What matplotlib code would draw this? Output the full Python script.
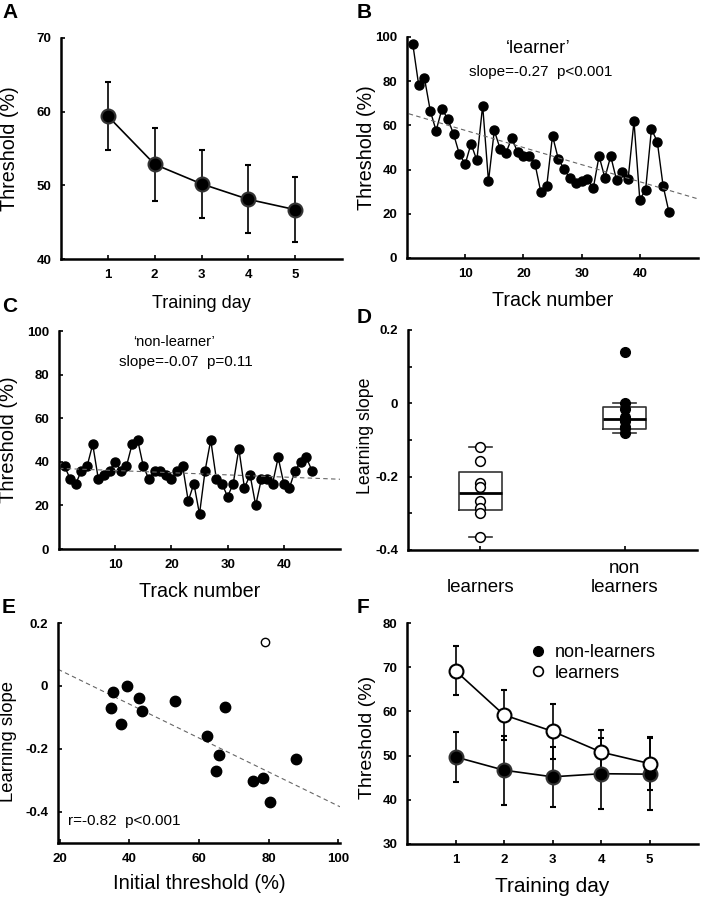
import numpy as np
import matplotlib
matplotlib.use('Agg')
import matplotlib.pyplot as plt
from matplotlib.lines import Line2D

plt.rcParams['font.family'] = ['Liberation Sans', 'DejaVu Sans']
plt.rcParams['axes.unicode_minus'] = False

# ---- data ----
# A: all subjects, threshold per training day
days = [1, 2, 3, 4, 5]
thr_all = [59.4, 52.85, 50.2, 48.1, 46.7]
thr_all_err = [4.6, 5.0, 4.65, 4.6, 4.4]

# B: example learner, threshold per track
track_learner = [96.7, 78.4, 81.4, 66.6, 57.6, 67.4, 63.0, 56.1, 47.0, 42.5,
                 51.7, 44.2, 69.0, 34.7, 57.7, 49.4, 47.5, 54.3, 47.9, 46.0,
                 46.0, 42.5, 29.7, 32.4, 55.3, 44.8, 40.2, 36.0, 34.1, 35.0,
                 35.9, 31.5, 46.1, 36.3, 46.1, 35.3, 38.9, 35.9, 61.8, 26.4,
                 30.9, 58.3, 52.7, 32.7, 20.9]
fit_learner = [65.5, -0.775]     # intercept, slope (per track)

# C: example non-learner
track_nonlearner = [38, 32, 30, 36, 38, 48, 32, 34, 36, 40,
                    36, 38, 48, 50, 38, 32, 36, 36, 34, 32,
                    36, 38, 22, 30, 16, 36, 50, 32, 30, 24,
                    30, 46, 28, 34, 20, 32, 32, 30, 42, 30,
                    28, 36, 40, 42, 36]
fit_nonlearner = [37.0, -0.10]

# D: learning slopes per group
slopes_learners = [-0.118, -0.158, -0.216, -0.229, -0.267, -0.285, -0.298, -0.365]
slopes_nonlearners = [0.139, 0.0, -0.016, -0.036, -0.047, -0.064, -0.068, -0.08]
box_learners = dict(q1=-0.2916, med=-0.2453, q3=-0.1876, whislo=-0.365, whishi=-0.118)
box_nonlearners = dict(q1=-0.069, med=-0.0436, q3=-0.0098, whislo=-0.08, whishi=0.0)
group_names = ['\nlearners', 'non\nlearners']

# E: initial threshold vs learning slope
init_thr = [35.3, 34.8, 39.4, 37.7, 42.8, 43.5, 53.2, 67.5, 62.3, 65.7,
            64.8, 75.4, 78.4, 80.4, 88.0]
init_slope = [-0.021, -0.0705, 0.0, -0.121, -0.040, -0.081, -0.049, -0.068, -0.161, -0.221,
              -0.272, -0.302, -0.292, -0.371, -0.232]
outlier_thr = [78.9]
outlier_slope = [0.140]
fit_e = [0.158, -0.0054]

# F: threshold per day for the two groups
thr_non = [49.7, 46.7, 45.2, 45.9, 45.8]
thr_non_err = [5.6, 7.8, 6.8, 8.0, 8.1]
thr_learn = [69.2, 59.2, 55.5, 50.8, 48.2]
thr_learn_err = [5.5, 5.7, 6.2, 5.1, 5.9]


W, H = 701, 899
fig = plt.figure(figsize=(W/100., H/100.), dpi=100)

def px_axes(l, t, r, b):
    # axes from pixel box (left, top, right, bottom)
    return fig.add_axes([l/W, 1-b/H, (r-l)/W, (b-t)/H])

def style(ax):
    for s in ['top', 'right']:
        ax.spines[s].set_visible(False)
    for s in ['left', 'bottom']:
        ax.spines[s].set_linewidth(1.8)
    ax.tick_params(axis='both', which='major', direction='in', length=3, width=1.2,
                   labelsize=9.5, pad=7)
    ax.tick_params(axis='both', which='minor', direction='in', length=3, width=1.2)

# ---- A ----
axA = px_axes(61, 38, 342, 259)
axA.errorbar(days, thr_all, yerr=thr_all_err, fmt='-o', color='black', ms=10,
             mfc='black', mec='#333333', mew=1.5, lw=1.2, elinewidth=1.2, capsize=2)
axA.set(xlim=(0, 6), ylim=(40, 70), xticks=days, yticks=[40, 50, 60, 70])
style(axA)
axA.set_xlabel('Training day', fontsize=13)
axA.set_ylabel('Threshold (%)', fontsize=14.2)
axA.xaxis.set_label_coords(0.5, -0.165)
axA.yaxis.set_label_coords(-0.15, 0.5)

# ---- B ----
axB = px_axes(407, 37, 698, 258)
nB = np.arange(1, len(track_learner)+1)
axB.plot(nB, track_learner, '-o', color='black', ms=6.5, lw=1.0)
xf = np.array([0.3, 50])
axB.plot(xf, fit_learner[0] + fit_learner[1]*xf, '--', color='#666666', lw=0.8, dashes=(4, 3))
axB.set(xlim=(0, 50), ylim=(0, 100), xticks=[10, 20, 30, 40], yticks=[0, 20, 40, 60, 80, 100])
style(axB)
axB.set_xlabel('Track number', fontsize=14.2)
axB.set_ylabel('Threshold (%)', fontsize=14.2)
axB.xaxis.set_label_coords(0.5, -0.15)
axB.yaxis.set_label_coords(-0.107, 0.5)
axB.text(0.45, 0.95, "\u2018learner\u2019", transform=axB.transAxes, ha='center', va='center', fontsize=13)
axB.text(0.46, 0.84, 'slope=-0.27  p<0.001', transform=axB.transAxes, ha='center', va='center', fontsize=11)

# ---- C ----
axC = px_axes(59, 331, 340, 549)
nC = np.arange(1, len(track_nonlearner)+1)
axC.plot(nC, track_nonlearner, '-o', color='black', ms=6.5, lw=1.0)
xf = np.array([0, 50])
axC.plot(xf, fit_nonlearner[0] + fit_nonlearner[1]*xf, '--', color='#666666', lw=0.8, dashes=(4, 3))
axC.set(xlim=(0, 50), ylim=(0, 100), xticks=[10, 20, 30, 40], yticks=[0, 20, 40, 60, 80, 100])
style(axC)
axC.set_xlabel('Track number', fontsize=14.2)
axC.set_ylabel('Threshold (%)', fontsize=14.5)
axC.xaxis.set_label_coords(0.5, -0.15)
axC.yaxis.set_label_coords(-0.145, 0.5)
axC.text(0.41, 0.95, "\u2018non-learner\u2019", transform=axC.transAxes, ha='center', va='center', fontsize=10.5)
axC.text(0.45, 0.86, 'slope=-0.07  p=0.11', transform=axC.transAxes, ha='center', va='center', fontsize=11)

# ---- D ----
axD = px_axes(408, 330, 697, 550)
stats = []
for b in [box_learners, box_nonlearners]:
    stats.append(dict(b, fliers=[]))
axD.bxp(stats, positions=[1, 2], widths=0.3, showfliers=False, capwidths=0.16,
        boxprops=dict(lw=1.2, color='#333333'), medianprops=dict(lw=2.0, color='black'),
        whiskerprops=dict(lw=0), capprops=dict(lw=1.2, color='#333333'))
axD.plot([1]*len(slopes_learners), slopes_learners, 'o', ms=7, mfc='white', mec='black', mew=1.1, zorder=3)
axD.plot([2]*len(slopes_nonlearners), slopes_nonlearners, 'o', ms=7, mfc='black', mec='black', zorder=3)
axD.set(xlim=(0.5, 2.5), ylim=(-0.4, 0.2))
axD.set_yticks([-0.4, -0.2, 0, 0.2], ['-0.4', '-0.2', '0', '0.2'])
axD.set_yticks([-0.3, -0.1, 0.1], minor=True)
style(axD)
axD.set_xticks([1, 2], group_names)
axD.tick_params(axis='x', pad=7)
axD.set_ylabel('Learning slope', fontsize=12.8)
axD.yaxis.set_label_coords(-0.117, 0.52)

# ---- E ----
axE = px_axes(58, 623, 340, 843)
xf = np.array([19.5, 100.5])
axE.plot(xf, fit_e[0] + fit_e[1]*xf, '--', color='#666666', lw=0.8, dashes=(4, 3))
axE.plot(init_thr, init_slope, 'o', ms=7.5, color='black')
axE.plot(outlier_thr, outlier_slope, 'o', ms=6, mfc='white', mec='black', mew=1.0)
axE.set(xlim=(19.5, 100.5), ylim=(-0.5, 0.2), xticks=[20, 40, 60, 80, 100])
axE.set_yticks([-0.4, -0.2, 0, 0.2], ['-0.4', '-0.2', '0', '0.2'])
style(axE)
axE.set_xlabel('Initial threshold (%)', fontsize=14.5)
axE.set_ylabel('Learning slope', fontsize=13.3)
axE.xaxis.set_label_coords(0.5, -0.14)
axE.yaxis.set_label_coords(-0.147, 0.46)
axE.text(0.035, 0.1, 'r=-0.82  p<0.001', transform=axE.transAxes, ha='left', va='center', fontsize=11)

# ---- F ----
axF = px_axes(407, 623, 698, 844)
axF.errorbar(days, thr_non, yerr=thr_non_err, fmt='-o', color='black', ms=10,
             mfc='black', mec='#333333', mew=1.5, lw=1.2, elinewidth=1.2, capsize=2)
axF.errorbar(days, thr_learn, yerr=thr_learn_err, fmt='-o', color='black', ms=10,
             mfc='white', mec='black', mew=1.5, lw=1.2, elinewidth=1.2, capsize=2)
axF.set(xlim=(0, 6), ylim=(30, 80), xticks=days, yticks=[30, 40, 50, 60, 70, 80])
style(axF)
axF.set_xlabel('Training day', fontsize=15)
axF.set_ylabel('Threshold (%)', fontsize=14)
axF.xaxis.set_label_coords(0.5, -0.15)
axF.yaxis.set_label_coords(-0.107, 0.48)
hs = [Line2D([], [], ls='none', marker='o', ms=7, mfc='black', mec='black'),
      Line2D([], [], ls='none', marker='o', ms=7, mfc='white', mec='black', mew=1.2)]
axF.legend(hs, ['non-learners', 'learners'], loc='upper left', bbox_to_anchor=(0.395, 0.945),
           frameon=False, fontsize=13, handlelength=0.8, handletextpad=0.5,
           borderpad=0, labelspacing=0.2)

# ---- panel letters ----
for x, y, s in [(2, 18, 'A'), (357, 18, 'B'), (2, 312, 'C'), (357, 323, 'D'), (2, 613, 'E'), (357, 613, 'F')]:
    fig.text(x/W, 1-y/H, s, fontsize=15, fontweight='bold', ha='left', va='baseline')

# bold numeric tick labels (ticks must exist first)
fig.canvas.draw()
for ax in [axA, axB, axC, axD, axE, axF]:
    for lab in ax.get_yticklabels():
        lab.set_fontweight('bold')
    if ax is not axD:
        for lab in ax.get_xticklabels():
            lab.set_fontweight('bold')
for lab in axD.get_xticklabels():
    lab.set_fontsize(13.5)

fig.savefig('out.png', dpi=100)
